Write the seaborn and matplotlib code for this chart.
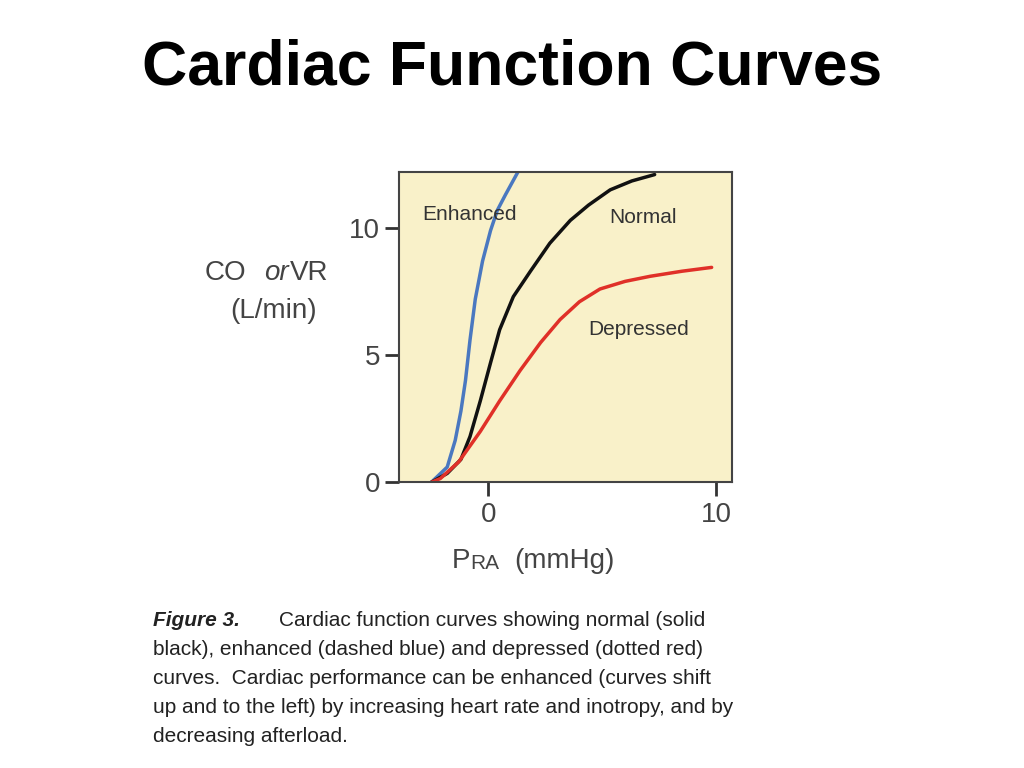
import numpy as np
import pandas as pd
import matplotlib.pyplot as plt
import seaborn as sns

# curve points (PRA mmHg, CO L/min)
enh_x = [-2.5, -1.8, -1.45, -1.2, -1.0, -0.8, -0.57, -0.25, 0.1, 0.4, 0.75, 1.3]
enh_y = [0.0, 0.6, 1.65, 2.8, 4.0, 5.6, 7.2, 8.7, 9.9, 10.7, 11.3, 12.2]
norm_x = [-2.5, -1.8, -1.2, -0.8, -0.35, 0.1, 0.5, 1.1, 1.85, 2.7, 3.6, 4.4, 5.35, 6.3, 7.3]
norm_y = [0.0, 0.35, 0.9, 1.8, 3.2, 4.7, 6.0, 7.3, 8.3, 9.4, 10.3, 10.9, 11.5, 11.85, 12.1]
dep_x = [-2.5, -2.1, -1.3, -0.35, 0.5, 1.4, 2.3, 3.15, 4.0, 4.9, 6.0, 7.1, 8.5, 9.8]
dep_y = [0.0, 0.15, 0.8, 2.0, 3.2, 4.4, 5.5, 6.4, 7.1, 7.6, 7.9, 8.1, 8.3, 8.45]

df = pd.concat([
    pd.DataFrame({'x': enh_x, 'y': enh_y, 'curve': 'Enhanced'}),
    pd.DataFrame({'x': norm_x, 'y': norm_y, 'curve': 'Normal'}),
    pd.DataFrame({'x': dep_x, 'y': dep_y, 'curve': 'Depressed'}),
])
colors = {'Enhanced': '#4a78c0', 'Normal': '#111111', 'Depressed': '#e03028'}

sns.set_style('white')
plt.rcParams['font.family'] = ['Liberation Sans', 'DejaVu Sans']
plt.rcParams['text.color'] = 'black'

fig = plt.figure(figsize=(10.24, 7.68), dpi=100)
ax = fig.add_axes([0.39, 0.372, 0.325, 0.404])
ax.set_facecolor('#f9f1c9')
sns.lineplot(data=df, x='x', y='y', hue='curve', palette=colors, sort=False,
             estimator=None, lw=2.5, legend=False, ax=ax)
ax.set_xlim(-3.9, 10.7)
ax.set_ylim(0, 12.2)
ax.set_xticks([0, 10])
ax.set_yticks([0, 5, 10])
ax.tick_params(axis='both', direction='out', length=10, width=2, labelsize=20,
               colors='#333333', labelcolor='#444444', pad=4,
               left=True, bottom=True)
ax.set_xlabel('')
ax.set_ylabel('')
for s in ax.spines.values():
    s.set_color('#444444')
    s.set_linewidth(1.5)

ax.text(-2.9, 10.3, 'Enhanced', fontsize=15, color='#333333')
ax.text(5.3, 10.2, 'Normal', fontsize=15, color='#333333')
ax.text(4.4, 5.8, 'Depressed', fontsize=15, color='#333333')

fig.text(0.5, 0.911, 'Cardiac Function Curves', ha='center', va='center',
         fontsize=45, fontweight='bold', color='black')
fig.text(0.200, 0.645, 'CO', fontsize=20, color='#444444', va='center')
fig.text(0.258, 0.645, 'or', fontsize=20, style='italic', color='#444444', va='center')
fig.text(0.283, 0.645, 'VR', fontsize=20, color='#444444', va='center')
fig.text(0.267, 0.595, '(L/min)', fontsize=20, color='#444444', va='center', ha='center')
fig.text(0.441, 0.270, 'P', fontsize=20, color='#444444', va='center')
fig.text(0.459, 0.266, 'RA', fontsize=15, color='#444444', va='center')
fig.text(0.502, 0.270, '(mmHg)', fontsize=20, color='#444444', va='center')

cap = ['black), enhanced (dashed blue) and depressed (dotted red)',
       'curves.  Cardiac performance can be enhanced (curves shift',
       'up and to the left) by increasing heart rate and inotropy, and by',
       'decreasing afterload.']
fig.text(0.149, 0.192, 'Figure 3.', fontsize=15, style='italic', fontweight='bold',
         color='#222222', va='center')
fig.text(0.272, 0.192, 'Cardiac function curves showing normal (solid', fontsize=15,
         color='#222222', va='center')
for i, line in enumerate(cap):
    fig.text(0.149, 0.154 - i * 0.0375, line, fontsize=15, color='#222222', va='center')

fig.savefig('out.png', dpi=100)
